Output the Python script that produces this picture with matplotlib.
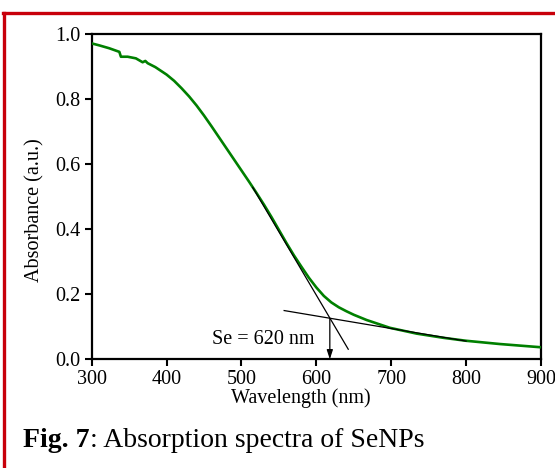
import matplotlib
matplotlib.use("Agg")
import matplotlib.pyplot as plt
from matplotlib.lines import Line2D

plt.rcParams['font.family'] = ['Liberation Serif', 'DejaVu Serif']

# Absorption spectrum
wavelength = [300, 310, 323.5, 336.9, 339, 348, 359, 368, 371.6, 374.8, 385, 400,
              410, 420, 430, 440, 450, 460, 470, 480, 490, 500, 510, 520, 530, 540,
              550, 560, 570, 580, 590, 600, 610, 620, 630, 640, 650, 667, 698, 734,
              770, 800, 845, 900]
absorbance = [0.972, 0.966, 0.957, 0.946, 0.931, 0.931, 0.926, 0.914, 0.918, 0.911, 0.899, 0.876,
              0.857, 0.834, 0.809, 0.781, 0.750, 0.717, 0.683, 0.649, 0.615, 0.581, 0.547, 0.512,
              0.476, 0.438, 0.398, 0.358, 0.320, 0.285, 0.251, 0.221, 0.195, 0.175, 0.160, 0.148,
              0.137, 0.121, 0.097, 0.079, 0.066, 0.057, 0.047, 0.037]

# Tangent lines
steep_x = [515, 642.6]
steep_y = [0.529, 0.031]
flat_x = [557, 800]
flat_y = [0.150, 0.056]
onset_nm = 618
onset_abs = 0.126
onset_label = "Se = 620 nm"

x_ticks = [300, 400, 500, 600, 700, 800, 900]
y_ticks = [0.0, 0.2, 0.4, 0.6, 0.8, 1.0]

W, H = 555, 468
fig = plt.figure(figsize=(W / 100, H / 100), dpi=100)
ax = fig.add_axes([91.7 / W, 1 - 359.3 / H, (541 - 91.7) / W, (359.3 - 34.3) / H])

ax.plot(wavelength, absorbance, color='#008000', lw=1.9, zorder=3,
        solid_capstyle='round', solid_joinstyle='round')
ax.plot(steep_x, steep_y, color='black', lw=0.9, zorder=4)
ax.plot(flat_x, flat_y, color='black', lw=0.9, zorder=4)
ax.annotate('', xy=(onset_nm, 0.0), xytext=(onset_nm, onset_abs),
            arrowprops=dict(arrowstyle='-|>,head_length=0.55,head_width=0.18',
                            color='black', lw=0.9, shrinkA=0, shrinkB=0), zorder=5)
ax.text(597, 0.047, onset_label, ha='right', va='baseline', fontsize=14.5)

ax.set_xlim(300, 900)
ax.set_ylim(0, 1.0)
ax.set_xticks(x_ticks)
ax.set_yticks(y_ticks)
ax.set_xticklabels([str(v) for v in x_ticks])
ax.set_yticklabels([f"{v:.1f}" for v in y_ticks])
ax.tick_params(direction='out', length=5, width=1.5, labelsize=14.5, pad=3,
               top=False, right=False)
for s in ax.spines.values():
    s.set_linewidth(1.6)

fig.text(301 / W, 1 - 398 / H, "Wavelength (nm)", ha='center', va='center', fontsize=14.5)
fig.text(35 / W, 1 - 210 / H, "Absorbance (a.u.)", ha='center', va='center',
         rotation=90, fontsize=14.5)

# Caption
fig.canvas.draw()
r = fig.canvas.get_renderer()
t1 = fig.text(23 / W, 1 - 446.7 / H, "Fig. 7", ha='left', va='baseline',
              fontsize=20, fontweight='bold')
bb = t1.get_window_extent(renderer=r)
fig.text(bb.x1 / W, 1 - 446.7 / H, ": Absorption spectra of SeNPs", ha='left',
         va='baseline', fontsize=20)

# Red frame
red = '#c8000a'
fig.add_artist(Line2D([3 / W, 1.0], [1 - 12.7 / H, 1 - 12.7 / H], color=red, lw=2.4,
                      transform=fig.transFigure))
fig.add_artist(Line2D([4 / W, 4 / W], [0, 1 - 12.7 / H], color=red, lw=2.4,
                      transform=fig.transFigure))

fig.savefig("out.png", dpi=100)
